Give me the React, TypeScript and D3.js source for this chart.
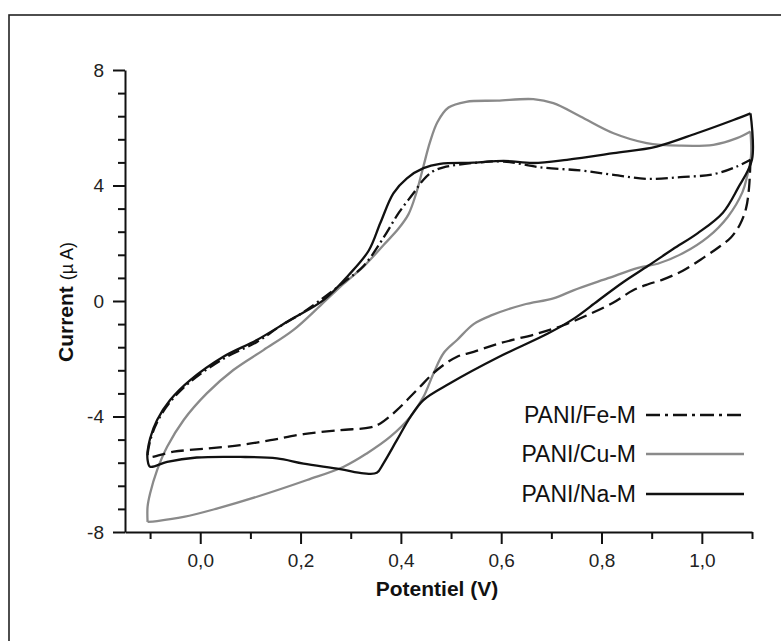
import React, { useEffect, useRef } from 'react';
import * as d3 from 'd3';

// cyclic voltammograms, potential (V) vs current (uA)
// forward = anodic sweep (upper branch), reverse = cathodic sweep (lower branch)
const naForward = [
  [-0.105, -5.2], [-0.1, -4.76], [-0.086, -4.12], [-0.06, -3.43], [-0.02, -2.74],
  [0.046, -1.93], [0.113, -1.35], [0.179, -0.66], [0.247, 0.05], [0.296, 0.9],
  [0.336, 1.75], [0.359, 2.7], [0.385, 3.73], [0.412, 4.25], [0.445, 4.6],
  [0.478, 4.75], [0.545, 4.79], [0.605, 4.85], [0.664, 4.78], [0.731, 4.89],
  [0.824, 5.12], [0.91, 5.35], [0.99, 5.81], [1.063, 6.27], [1.097, 6.5]
];
const naReverse = [
  [1.097, 6.5], [1.1, 4.9], [1.072, 3.91], [1.042, 3.06], [0.992, 2.35],
  [0.942, 1.79], [0.893, 1.22], [0.843, 0.65], [0.793, 0.01], [0.744, -0.62],
  [0.694, -1.12], [0.594, -1.95], [0.498, -2.85], [0.445, -3.43], [0.419, -4.01],
  [0.392, -4.82], [0.365, -5.63], [0.352, -5.95], [0.326, -5.97], [0.279, -5.82],
  [0.206, -5.63], [0.153, -5.45], [0.08, -5.4], [-0.007, -5.42], [-0.066, -5.57],
  [-0.1, -5.74], [-0.105, -5.5], [-0.105, -5.2]
];

const cuForward = [
  [-0.105, -7.65], [-0.105, -7.13], [-0.1, -6.67], [-0.086, -5.86], [-0.066, -5.05],
  [-0.033, -4.12], [0.013, -3.2], [0.066, -2.39], [0.126, -1.7], [0.186, -1.0],
  [0.24, -0.15], [0.286, 0.6], [0.326, 1.2], [0.366, 1.95], [0.395, 2.5],
  [0.415, 3.0], [0.43, 3.7], [0.444, 4.6], [0.458, 5.5], [0.473, 6.2], [0.495, 6.7],
  [0.53, 6.9], [0.592, 6.94], [0.664, 6.99], [0.704, 6.85], [0.758, 6.39],
  [0.824, 5.81], [0.89, 5.47], [0.957, 5.38], [1.023, 5.41], [1.07, 5.64], [1.097, 5.87]
];
const cuReverse = [
  [1.097, 5.87], [1.098, 5.0], [1.09, 4.3], [1.081, 3.77], [1.052, 2.92],
  [1.012, 2.21], [0.962, 1.65], [0.912, 1.29], [0.873, 1.15], [0.813, 0.79],
  [0.744, 0.37], [0.704, 0.09], [0.644, -0.13], [0.58, -0.5], [0.545, -0.8],
  [0.512, -1.35], [0.485, -1.81], [0.465, -2.51], [0.445, -3.32], [0.419, -4.01],
  [0.379, -4.7], [0.332, -5.28], [0.286, -5.74], [0.213, -6.2], [0.113, -6.78],
  [0.033, -7.19], [-0.033, -7.48], [-0.086, -7.62], [-0.105, -7.65]
];

const feForward = [
  [-0.105, -5.3], [-0.1, -4.85], [-0.086, -4.2], [-0.06, -3.5], [-0.02, -2.8],
  [0.046, -2.0], [0.113, -1.42], [0.157, -0.9], [0.2, -0.45], [0.237, 0.0],
  [0.286, 0.65], [0.326, 1.22], [0.366, 2.21], [0.396, 3.06], [0.425, 3.73],
  [0.445, 4.2], [0.465, 4.5], [0.485, 4.63], [0.545, 4.78], [0.605, 4.83],
  [0.678, 4.63], [0.758, 4.52], [0.824, 4.37], [0.89, 4.23], [0.957, 4.29],
  [1.023, 4.39], [1.07, 4.66], [1.097, 4.89]
];
const feReverse = [
  [1.097, 4.89], [1.094, 3.9], [1.088, 3.2], [1.076, 2.65], [1.058, 2.2],
  [1.035, 1.88], [1.005, 1.52], [0.962, 1.05], [0.922, 0.74], [0.893, 0.58],
  [0.863, 0.37], [0.823, -0.06], [0.773, -0.48], [0.724, -0.84], [0.674, -1.12],
  [0.594, -1.48], [0.545, -1.76], [0.512, -1.93], [0.472, -2.39], [0.432, -3.08],
  [0.392, -3.78], [0.359, -4.24], [0.339, -4.38], [0.279, -4.47], [0.206, -4.61],
  [0.14, -4.82], [0.08, -4.99], [0.013, -5.11], [-0.053, -5.22], [-0.103, -5.4],
  [-0.105, -5.3]
];

const seriesNames = ['PANI/Fe-M', 'PANI/Cu-M', 'PANI/Na-M'];
const xTickValues = [0, 0.2, 0.4, 0.6, 0.8, 1.0];
const xMinorValues = [-0.1, 0.1, 0.3, 0.5, 0.7, 0.9, 1.1];
const yTickValues = [-8, -4, 0, 4, 8];
const yMinorValues = [-7.2, -6.4, -5.6, -4.8, -3.2, -2.4, -1.6, -0.8, 0.8, 1.6, 2.4, 3.2, 4.8, 5.6, 6.4, 7.2];

const FONT = 'Liberation Sans, Arial, Helvetica, sans-serif';

const App = () => {
  const width = 781;
  const height = 641;
  const svgRef = useRef(null);

  useEffect(() => {
    const svg = d3.select(svgRef.current);
    svg.selectAll('*').remove();

    const x = d3.scaleLinear().domain([-0.15, 1.1]).range([125, 752]);
    const y = d3.scaleLinear().domain([-8, 8]).range([532, 70]);

    // outer frame
    svg.append('rect')
      .attr('x', 9).attr('y', 15)
      .attr('width', 820).attr('height', 700)
      .attr('fill', 'none').attr('stroke', '#222').attr('stroke-width', 1.6);

    // y axis
    const yAxis = svg.append('g').attr('transform', `translate(${x(-0.15)},0)`);
    yAxis.call(d3.axisLeft(y).tickValues(yTickValues).tickSize(12).tickSizeOuter(0).tickPadding(9)
      .tickFormat(d => String(d)));
    yAxis.append('g').call(d3.axisLeft(y).tickValues(yMinorValues).tickSize(7).tickFormat(() => ''))
      .call(g => g.select('.domain').remove());

    // x axis
    const xAxis = svg.append('g').attr('transform', `translate(0,${y(-8)})`);
    xAxis.call(d3.axisBottom(x).tickValues(xTickValues).tickSize(12).tickSizeOuter(0).tickPadding(10)
      .tickFormat(d => d3.format('.1f')(d).replace('.', ',')));
    xAxis.append('g').call(d3.axisBottom(x).tickValues(xMinorValues).tickSize(7).tickFormat(() => ''))
      .call(g => g.select('.domain').remove());

    svg.selectAll('.domain').attr('stroke', '#111').attr('stroke-width', 2);
    svg.selectAll('.tick line').attr('stroke', '#111').attr('stroke-width', 2);
    svg.selectAll('.tick text').attr('font-family', FONT).attr('font-size', 19).attr('fill', '#222');

    // axis titles
    svg.append('text')
      .attr('x', 437).attr('y', 596)
      .attr('text-anchor', 'middle')
      .attr('font-family', FONT).attr('font-size', 21).attr('font-weight', 'bold').attr('fill', '#111')
      .text('Potentiel (V)');

    const yTitle = svg.append('text')
      .attr('transform', 'translate(73,302) rotate(-90)')
      .attr('text-anchor', 'middle')
      .attr('font-family', FONT).attr('fill', '#111');
    yTitle.append('tspan').attr('font-size', 21).attr('font-weight', 'bold').text('Current ');
    yTitle.append('tspan').attr('font-size', 18).text('(\u00b5 A)');

    const line = d3.line()
      .x(d => x(d[0]))
      .y(d => y(d[1]))
      .curve(d3.curveCatmullRom.alpha(0.5));

    const branches = [
      { data: cuForward, stroke: '#8a8a8a', dash: null },
      { data: cuReverse, stroke: '#8a8a8a', dash: null },
      { data: feForward, stroke: '#111', dash: '12,4,2,4' },
      { data: feReverse, stroke: '#111', dash: '13,6' },
      { data: naForward, stroke: '#111', dash: null },
      { data: naReverse, stroke: '#111', dash: null }
    ];

    svg.append('g').selectAll('path')
      .data(branches)
      .enter().append('path')
      .attr('d', d => line(d.data))
      .attr('fill', 'none')
      .attr('stroke', d => d.stroke)
      .attr('stroke-width', 2.3)
      .attr('stroke-dasharray', d => d.dash)
      .attr('stroke-linejoin', 'round');

    // legend
    const legendStyles = [
      { stroke: '#111', dash: '14,5,3,5' },
      { stroke: '#8a8a8a', dash: null },
      { stroke: '#111', dash: null }
    ];
    const legendY = [415, 454, 494];
    const legend = svg.append('g');
    seriesNames.forEach((name, i) => {
      legend.append('text')
        .attr('x', 636).attr('y', legendY[i] + 8)
        .attr('text-anchor', 'end')
        .attr('font-family', FONT).attr('font-size', 23).attr('fill', '#111')
        .text(name);
      legend.append('line')
        .attr('x1', 646).attr('x2', 744)
        .attr('y1', legendY[i]).attr('y2', legendY[i])
        .attr('stroke', legendStyles[i].stroke)
        .attr('stroke-width', 2.3)
        .attr('stroke-dasharray', legendStyles[i].dash);
    });
  });

  return (
    <svg ref={svgRef} width={width} height={height}
      style={{ position: 'absolute', left: 0, top: 0, background: '#fff' }}></svg>
  );
};

export default App;
